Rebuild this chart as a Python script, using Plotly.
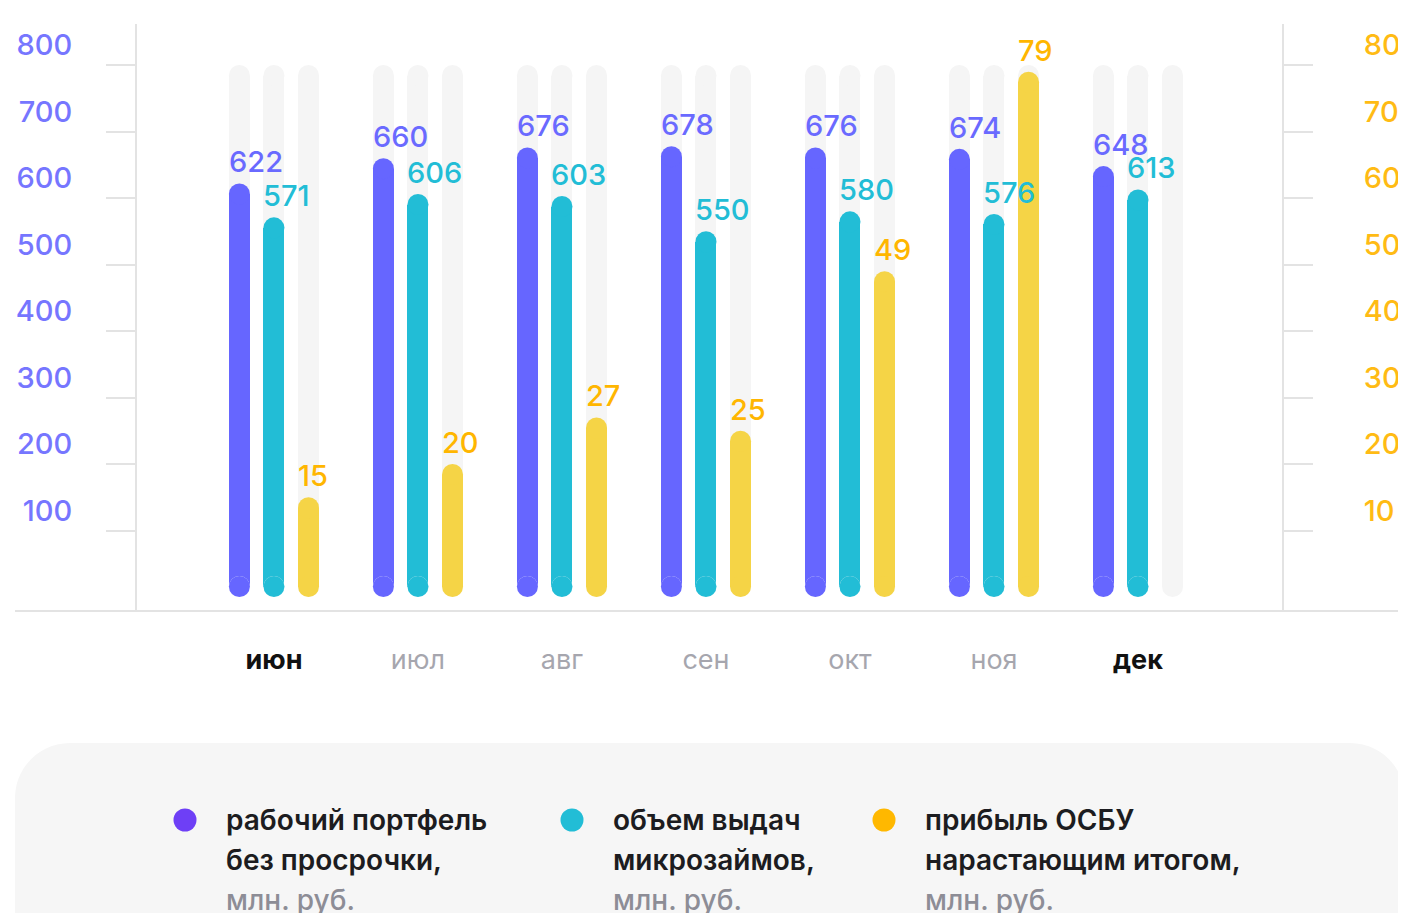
import plotly.graph_objects as go

months = ["июн", "июл", "авг", "сен", "окт", "ноя", "дек"]
month_bold = [True, False, False, False, False, False, True]
portfolio = [622, 660, 676, 678, 676, 674, 648]      # left axis
issued = [571, 606, 603, 550, 580, 576, 613]         # left axis
profit = [15, 20, 27, 25, 49, 79, None]              # right axis
left_ticks = [100, 200, 300, 400, 500, 600, 700, 800]
right_ticks = [10, 20, 30, 40, 50, 60, 70, 80]
left_max = 800
legend_items = [
    ["рабочий портфель", "без просрочки,", "млн. руб."],
    ["объем выдач", "микрозаймов,", "млн. руб."],
    ["прибыль ОСБУ", "нарастающим итогом,", "млн. руб."],
]

C_PURPLE = "#6666ff"
C_PURPLE_T = "#6a6aff"
C_CYAN = "#22bdd6"
C_YELLOW = "#f5d446"
C_YELLOW_T = "#ffb600"
C_BG = "#f5f5f5"
C_AXIS = "#e3e3e3"
FONT = "Inter"

OFF = 8                      # page body margin
W, H = 1406 - OFF, 913 - OFF
# plot area (window pixels)
PL, PR, PT, PB = 137, 1282, 24, 611
y_lo, y_hi = -21.0, 861.7
x_lo, x_hi = -0.951, 7.0
upp_y = (y_hi - y_lo) / (PB - PT)      # left-axis units per pixel
bar_px = 21
bar_w = bar_px / 144.0
off = 0.24
r_left = (bar_px / 2) * upp_y
r_right = r_left / 10.0


def px(X):
    return (X - PL) / (PR - PL)


def py(Y):
    return (PB - Y) / (PB - PT)


fig = go.Figure()


def rounded_bar(xs, vals, color, yaxis, r):
    xx = [x for x, v in zip(xs, vals) if v is not None]
    vv = [v for v in vals if v is not None]
    # straight body between the two cap centres
    fig.add_trace(go.Bar(x=xx, y=[v - 2 * r for v in vv], base=[r] * len(vv), width=bar_w,
                         marker=dict(color=color, line=dict(width=0)),
                         yaxis=yaxis, hoverinfo="skip", showlegend=False))
    # round caps (bottom and top)
    fig.add_trace(go.Scatter(x=xx + xx, y=[r] * len(vv) + [v - r for v in vv], mode="markers",
                             marker=dict(color=color, size=bar_px, line=dict(width=0)),
                             yaxis=yaxis, hoverinfo="skip", showlegend=False))


idx = list(range(len(months)))
xs_p = [i - off for i in idx]
xs_c = [i for i in idx]
xs_y = [i + off for i in idx]

# background tracks
rounded_bar(xs_p + xs_c + xs_y, [left_max] * (3 * len(months)), C_BG, "y", r_left)
# data bars
rounded_bar(xs_p, portfolio, C_PURPLE, "y", r_left)
rounded_bar(xs_c, issued, C_CYAN, "y", r_left)
rounded_bar(xs_y, profit, C_YELLOW, "y2", r_right)

annotations = []
for xs, vals, col, yref in [(xs_p, portfolio, C_PURPLE_T, "y"), (xs_c, issued, C_CYAN, "y"),
                            (xs_y, profit, C_YELLOW_T, "y2")]:
    for x, v in zip(xs, vals):
        if v is None:
            continue
        annotations.append(dict(x=x - bar_w / 2, y=v, xref="x", yref=yref, text=str(v),
                                xanchor="left", yanchor="bottom", showarrow=False, yshift=2,
                                xshift=-2, font=dict(family=FONT, size=29, weight=500, color=col)))

# legend
dot_colors = ["#6e3ff6", "#22bdd6", "#ffb800"]
dot_x = [185, 572, 884]
text_x = [224, 611, 923]
line_y = [820, 860, 900]
shapes = []
bx0, bx1, by0, by1, rad = 15, 1405, 743, 990, 55
k = 0.5523
path = (f"M {px(bx0 + rad)},{py(by0)} L {px(bx1 - rad)},{py(by0)} "
        f"C {px(bx1 - rad + rad * k)},{py(by0)} {px(bx1)},{py(by0 + rad - rad * k)} {px(bx1)},{py(by0 + rad)} "
        f"L {px(bx1)},{py(by1)} L {px(bx0)},{py(by1)} L {px(bx0)},{py(by0 + rad)} "
        f"C {px(bx0)},{py(by0 + rad - rad * k)} {px(bx0 + rad - rad * k)},{py(by0)} {px(bx0 + rad)},{py(by0)} Z")
shapes.append(dict(type="path", xref="paper", yref="paper", path=path,
                   fillcolor="#f6f6f6", line=dict(width=0), layer="below"))
shapes.append(dict(type="line", xref="paper", yref="paper", x0=px(15), x1=px(1405), y0=0, y1=0,
                   line=dict(color=C_AXIS, width=2)))
for j, item in enumerate(legend_items):
    shapes.append(dict(type="circle", xref="paper", yref="paper",
                       x0=px(dot_x[j] - 11.5), x1=px(dot_x[j] + 11.5),
                       y0=py(line_y[0] + 11.5), y1=py(line_y[0] - 11.5),
                       fillcolor=dot_colors[j], line=dict(width=0)))
    for li, line in enumerate(item):
        gray = li == 2
        annotations.append(dict(x=px(text_x[j]), y=py(line_y[li]), xref="paper", yref="paper",
                                text=line, xanchor="left", yanchor="middle", showarrow=False,
                                font=dict(family=FONT, size=28, weight=500 if gray else 600,
                                          color="#8d8d96" if gray else "#1c1c20")))

ticktext = [f"<b>{m}</b>" if b else f"<span style='color:#a6a6ae'>{m}</span>"
            for m, b in zip(months, month_bold)]

fig.update_layout(
    width=W, height=H,
    autosize=False,
    margin=dict(l=PL - OFF, r=(W + OFF) - PR, t=PT - OFF, b=(H + OFF) - PB, pad=0,
                autoexpand=False),
    paper_bgcolor="white", plot_bgcolor="white",
    barmode="overlay", bargap=0,
    showlegend=False,
    font=dict(family=FONT),
    xaxis=dict(range=[x_lo, x_hi], tickmode="array", tickvals=idx, ticktext=ticktext,
               automargin=False,
               showgrid=False, zeroline=False, showline=False, ticks="",
               tickfont=dict(family=FONT, size=27, color="#111111"), ticklabelstandoff=30),
    yaxis=dict(range=[y_lo, y_hi], tickmode="array", tickvals=left_ticks,
               ticktext=[str(t) for t in left_ticks], automargin=False,
               showgrid=False, zeroline=False, showline=True, linecolor=C_AXIS, linewidth=2,
               ticks="outside", ticklen=29, tickcolor=C_AXIS, tickwidth=2,
               tickfont=dict(family=FONT, size=29, weight=500, color="#7676ff"),
               ticklabelshift=-20, ticklabelstandoff=28),
    yaxis2=dict(range=[y_lo / 10, y_hi / 10], overlaying="y", side="right", tickmode="array",
                tickvals=right_ticks, ticktext=[str(t) for t in right_ticks], automargin=False,
                showgrid=False, zeroline=False, showline=True, linecolor=C_AXIS, linewidth=2,
                ticks="outside", ticklen=29, tickcolor=C_AXIS, tickwidth=2,
                tickfont=dict(family=FONT, size=29, weight=500, color="#ffbb14"),
                ticklabelshift=-20, ticklabelstandoff=45),
    shapes=shapes,
    annotations=annotations,
)

fig.write_html("out.html")
